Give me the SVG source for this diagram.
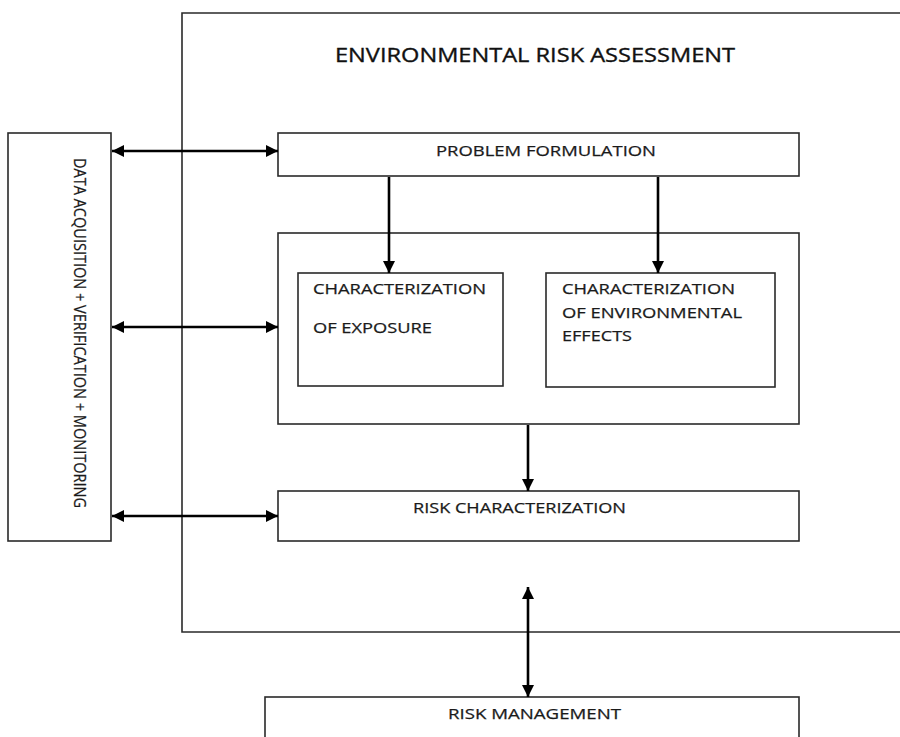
<svg xmlns="http://www.w3.org/2000/svg" width="900" height="737" viewBox="0 0 900 737">
<style>
.box{fill:#fff;stroke:#2a2a2a;stroke-width:1.6}
.frame{fill:none;stroke:#2a2a2a;stroke-width:1.6}
.t{font-family:"Open Sans","Liberation Sans",sans-serif;font-size:15px;fill:#1a1a1a;stroke:#1a1a1a;stroke-width:0.25}
.title{font-family:"Open Sans","Liberation Sans",sans-serif;font-size:20px;fill:#111;stroke:#111;stroke-width:0.35}
.c{fill:none;stroke:#000;stroke-width:2.6}
</style>
<defs>
<marker id="ah" markerUnits="userSpaceOnUse" markerWidth="12" markerHeight="12" viewBox="0 0 12 12" refX="12" refY="6" orient="auto-start-reverse">
<path d="M0,0 L12,6 L0,12 z" fill="#000"/>
</marker>
</defs>
<rect width="900" height="737" fill="#fff"/>
<g id="era-frame">
<path class="frame" d="M900,13 H182 V632 H900"/>
<text class="title" x="335" y="62" textLength="400" lengthAdjust="spacingAndGlyphs">ENVIRONMENTAL RISK ASSESSMENT</text>
</g>
<g id="data-acquisition">
<rect class="box" x="8" y="133" width="103" height="408"/>
<text class="t" transform="translate(74,333) rotate(90)" text-anchor="middle" style="font-size:17px" textLength="350" lengthAdjust="spacingAndGlyphs">DATA ACQUISITION + VERIFICATION + MONITORING</text>
</g>
<g id="problem-formulation">
<rect class="box" x="278" y="133" width="521" height="43"/>
<text class="t" x="436" y="156" textLength="220" lengthAdjust="spacingAndGlyphs">PROBLEM FORMULATION</text>
</g>
<g id="analysis">
<rect class="box" x="278" y="233" width="521" height="191"/>
</g>
<g id="char-exposure">
<rect class="box" x="298" y="273" width="205" height="113"/>
<text class="t" x="313" y="294" textLength="173" lengthAdjust="spacingAndGlyphs">CHARACTERIZATION</text>
<text class="t" x="313" y="333" textLength="119" lengthAdjust="spacingAndGlyphs">OF EXPOSURE</text>
</g>
<g id="char-effects">
<rect class="box" x="546" y="273" width="229" height="114"/>
<text class="t" x="562" y="294" textLength="173" lengthAdjust="spacingAndGlyphs">CHARACTERIZATION</text>
<text class="t" x="562" y="318" textLength="180" lengthAdjust="spacingAndGlyphs">OF ENVIRONMENTAL</text>
<text class="t" x="562" y="341" textLength="70" lengthAdjust="spacingAndGlyphs">EFFECTS</text>
</g>
<g id="risk-characterization">
<rect class="box" x="278" y="491" width="521" height="50"/>
<text class="t" x="413" y="513" textLength="213" lengthAdjust="spacingAndGlyphs">RISK CHARACTERIZATION</text>
</g>
<g id="risk-management">
<rect class="box" x="265" y="697" width="534" height="60"/>
<text class="t" x="448" y="719" textLength="173" lengthAdjust="spacingAndGlyphs">RISK MANAGEMENT</text>
</g>
<g id="connectors">
<line class="c" x1="112" y1="151" x2="278" y2="151" marker-start="url(#ah)" marker-end="url(#ah)"/>
<line class="c" x1="112" y1="327" x2="278" y2="327" marker-start="url(#ah)" marker-end="url(#ah)"/>
<line class="c" x1="112" y1="516" x2="278" y2="516" marker-start="url(#ah)" marker-end="url(#ah)"/>
<line class="c" x1="389" y1="177" x2="389" y2="273" marker-end="url(#ah)"/>
<line class="c" x1="658" y1="177" x2="658" y2="273" marker-end="url(#ah)"/>
<line class="c" x1="528" y1="425" x2="528" y2="491" marker-end="url(#ah)"/>
<line class="c" x1="528" y1="587" x2="528" y2="697" marker-start="url(#ah)" marker-end="url(#ah)"/>
</g>
</svg>
